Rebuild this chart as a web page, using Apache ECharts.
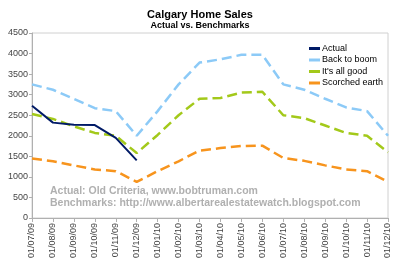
<!DOCTYPE html>
<html>
<head>
<meta charset="utf-8">
<script src="https://cdn.jsdelivr.net/npm/echarts@6/dist/echarts.min.js"></script>
<style>html,body{margin:0;padding:0;background:#fff}#c{width:400px;height:267px}</style>
</head>
<body>
<div id="c"></div>
<script>
var categories = ['01/07/09','01/08/09','01/09/09','01/10/09','01/11/09','01/12/09','01/01/10','01/02/10','01/03/10','01/04/10','01/05/10','01/06/10','01/07/10','01/08/10','01/09/10','01/10/10','01/11/10','01/12/10'];
var actual = [2730, 2320, 2270, 2260, 1950, 1400];
var backToBoom = [3250, 3120, 2900, 2670, 2600, 2000, 2600, 3250, 3780, 3860, 3970, 3970, 3250, 3120, 2900, 2690, 2600, 2000];
var allGood = [2530, 2410, 2230, 2070, 2000, 1580, 2020, 2500, 2900, 2920, 3050, 3070, 2500, 2430, 2250, 2070, 2000, 1600];
var scorched = [1450, 1380, 1280, 1180, 1140, 880, 1140, 1380, 1640, 1700, 1750, 1760, 1460, 1390, 1280, 1180, 1140, 880];
var yTicks = {min: 0, max: 4500, interval: 500};

var chart = echarts.init(document.getElementById('c'));
var ff = '"Liberation Sans", Arial, sans-serif';
function dashed(name, data, color) {
  return {name: name, type: 'line', data: data, symbol: 'none', smooth: false,
    lineStyle: {color: color, width: 2.5, type: [10, 5]}, itemStyle: {color: color}};
}
chart.setOption({
  animation: false,
  textStyle: {fontFamily: ff},
  title: {text: 'Calgary Home Sales', subtext: 'Actual vs. Benchmarks', left: 'center', top: 4, itemGap: 1,
    textStyle: {fontSize: 11, fontWeight: 'bold', color: '#000', fontFamily: ff},
    subtextStyle: {fontSize: 9, fontWeight: 'bold', color: '#000', fontFamily: ff}},
  legend: {orient: 'vertical', left: 304, top: 39, itemWidth: 11, itemHeight: 3, itemGap: 2.5,
    icon: 'rect', textStyle: {fontSize: 9, color: '#000', fontFamily: ff, padding: [0,0,0,-3]},
    data: ['Actual', 'Back to boom', "It's all good", 'Scorched earth']},
  grid: {left: 32, right: 12, top: 33, bottom: 49, show: true, borderColor: '#d0d0d0', borderWidth: 1},
  xAxis: {type: 'category', data: categories, boundaryGap: false,
    axisLine: {lineStyle: {color: '#b0b0b0'}},
    axisTick: {show: true, length: 4, lineStyle: {color: '#b0b0b0'}},
    axisLabel: {rotate: 90, fontSize: 9, color: '#444', margin: 5, interval: 0, fontFamily: ff},
    splitLine: {show: false}},
  yAxis: {type: 'value', min: yTicks.min, max: yTicks.max, interval: yTicks.interval,
    axisLine: {show: true, lineStyle: {color: '#b0b0b0'}},
    axisTick: {show: true, length: 3, lineStyle: {color: '#b0b0b0'}},
    axisLabel: {fontSize: 9, color: '#444', margin: 4, fontFamily: ff, formatter: function (v) { return String(v); }},
    splitLine: {show: false}},
  graphic: [
    {type: 'text', left: 50, top: 186, style: {text: 'Actual: Old Criteria, www.bobtruman.com', fill: '#b0b0b0', font: 'bold 10.5px ' + ff}},
    {type: 'text', left: 50, top: 198, style: {text: 'Benchmarks: http://www.albertarealestatewatch.blogspot.com', fill: '#b0b0b0', font: 'bold 10.5px ' + ff}}
  ],
  series: [
    {name: 'Actual', type: 'line', data: actual, symbol: 'none', lineStyle: {color: '#001a66', width: 2}, itemStyle: {color: '#001a66'}, z: 5},
    dashed('Back to boom', backToBoom, '#8ccaf7'),
    dashed("It's all good", allGood, '#a3c91a'),
    dashed('Scorched earth', scorched, '#f7941d')
  ]
});
</script>
</body>
</html>
